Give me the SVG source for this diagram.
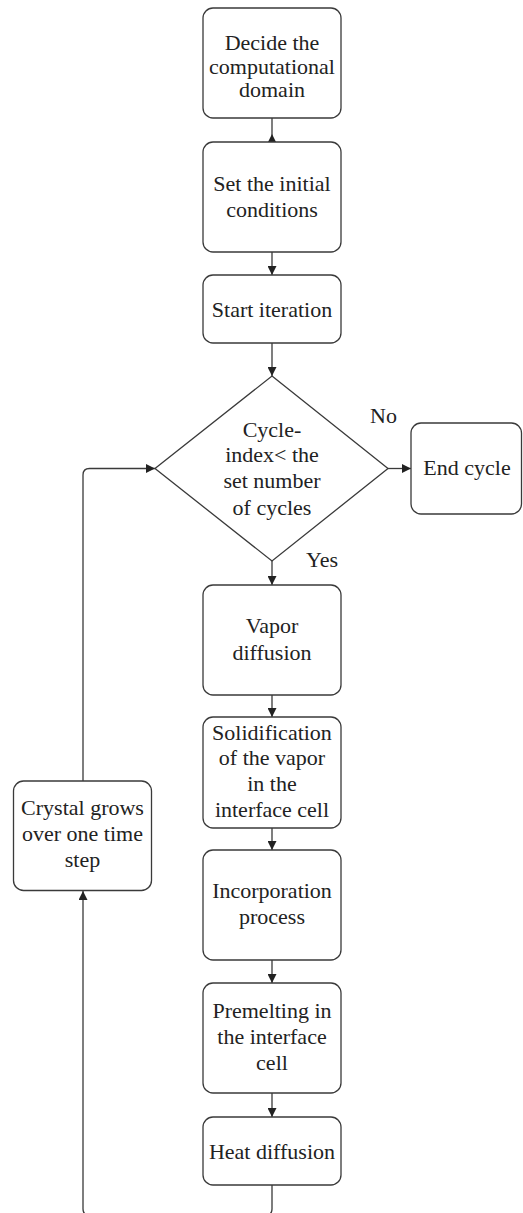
<svg xmlns="http://www.w3.org/2000/svg" width="523" height="1213" viewBox="0 0 523 1213">
<style>
.box{fill:#fff;stroke:#3a3a3a;stroke-width:1.3}
.t{font-family:"Liberation Serif","Times New Roman",serif;font-size:22px;fill:#222;text-anchor:middle}
.c{fill:none;stroke:#3a3a3a;stroke-width:1.3}
.ah{fill:#222}
</style>
<defs>
<marker id="arr" markerUnits="userSpaceOnUse" markerWidth="9" markerHeight="9" refX="9" refY="4.5" orient="auto">
<path d="M0,0 L9,4.5 L0,9 z" fill="#222"/>
</marker>
</defs>
<rect width="523" height="1213" fill="#fff"/>
<g id="connectors">
<path class="c" d="M272,118 V142"/>
<polygon class="ah" points="272,134 267.5,143 276.5,143"/>
<path class="c" d="M272,252 V275" marker-end="url(#arr)"/>
<path class="c" d="M272,343 V376" marker-end="url(#arr)"/>
<path class="c" d="M388,468.5 H411" marker-end="url(#arr)"/>
<path class="c" d="M272,561 V585" marker-end="url(#arr)"/>
<path class="c" d="M272,695 V717" marker-end="url(#arr)"/>
<path class="c" d="M272,828 V850" marker-end="url(#arr)"/>
<path class="c" d="M272,960 V983" marker-end="url(#arr)"/>
<path class="c" d="M272,1093 V1117" marker-end="url(#arr)"/>
<path class="c" d="M272,1185 V1209 Q272,1215 266,1215 H89 Q83,1215 83,1209 V891" marker-end="url(#arr)"/>
<path class="c" d="M83,781 V475 Q83,468.5 89.5,468.5 H155" marker-end="url(#arr)"/>
</g>
<g id="n1"><rect class="box" x="203" y="8" width="138" height="110" rx="10"/>
<text class="t" x="272" y="50">Decide the</text><text class="t" x="272" y="73.5">computational</text><text class="t" x="272" y="97">domain</text></g>
<g id="n2"><rect class="box" x="203" y="142" width="138" height="110" rx="10"/>
<text class="t" x="272" y="190.5">Set the initial</text><text class="t" x="272" y="216.5">conditions</text></g>
<g id="n3"><rect class="box" x="203" y="275" width="138" height="68" rx="10"/>
<text class="t" x="272" y="316.5">Start iteration</text></g>
<g id="n4"><polygon class="box" points="272,376 388,468.5 272,561 155,468.5"/>
<text class="t" x="272" y="436.5">Cycle-</text><text class="t" x="272" y="462">index&lt; the</text><text class="t" x="272" y="488">set number</text><text class="t" x="272" y="514.5">of cycles</text></g>
<g id="n5"><rect class="box" x="411" y="423" width="110.5" height="91" rx="10"/>
<text class="t" x="467" y="475">End cycle</text></g>
<g id="lblNo"><text class="t" x="383.5" y="423">No</text></g>
<g id="lblYes"><text class="t" x="322" y="567">Yes</text></g>
<g id="n6"><rect class="box" x="203" y="585" width="138" height="110" rx="10"/>
<text class="t" x="272" y="633">Vapor</text><text class="t" x="272" y="660">diffusion</text></g>
<g id="n7"><rect class="box" x="203" y="717" width="138" height="111" rx="10"/>
<text class="t" x="272" y="739.5">Solidification</text><text class="t" x="272" y="765">of the vapor</text><text class="t" x="272" y="790.5">in the</text><text class="t" x="272" y="816.5">interface cell</text></g>
<g id="n8"><rect class="box" x="203" y="850" width="138" height="110" rx="10"/>
<text class="t" x="272" y="898">Incorporation</text><text class="t" x="272" y="924">process</text></g>
<g id="n9"><rect class="box" x="203" y="983" width="138" height="110" rx="10"/>
<text class="t" x="272" y="1018">Premelting in</text><text class="t" x="272" y="1044">the interface</text><text class="t" x="272" y="1070">cell</text></g>
<g id="n10"><rect class="box" x="203" y="1117" width="138" height="68" rx="10"/>
<text class="t" x="272" y="1158.5">Heat diffusion</text></g>
<g id="n11"><rect class="box" x="13.5" y="781" width="138" height="109.5" rx="10"/>
<text class="t" x="82.5" y="815">Crystal grows</text><text class="t" x="82.5" y="841">over one time</text><text class="t" x="82.5" y="867">step</text></g>
</svg>
